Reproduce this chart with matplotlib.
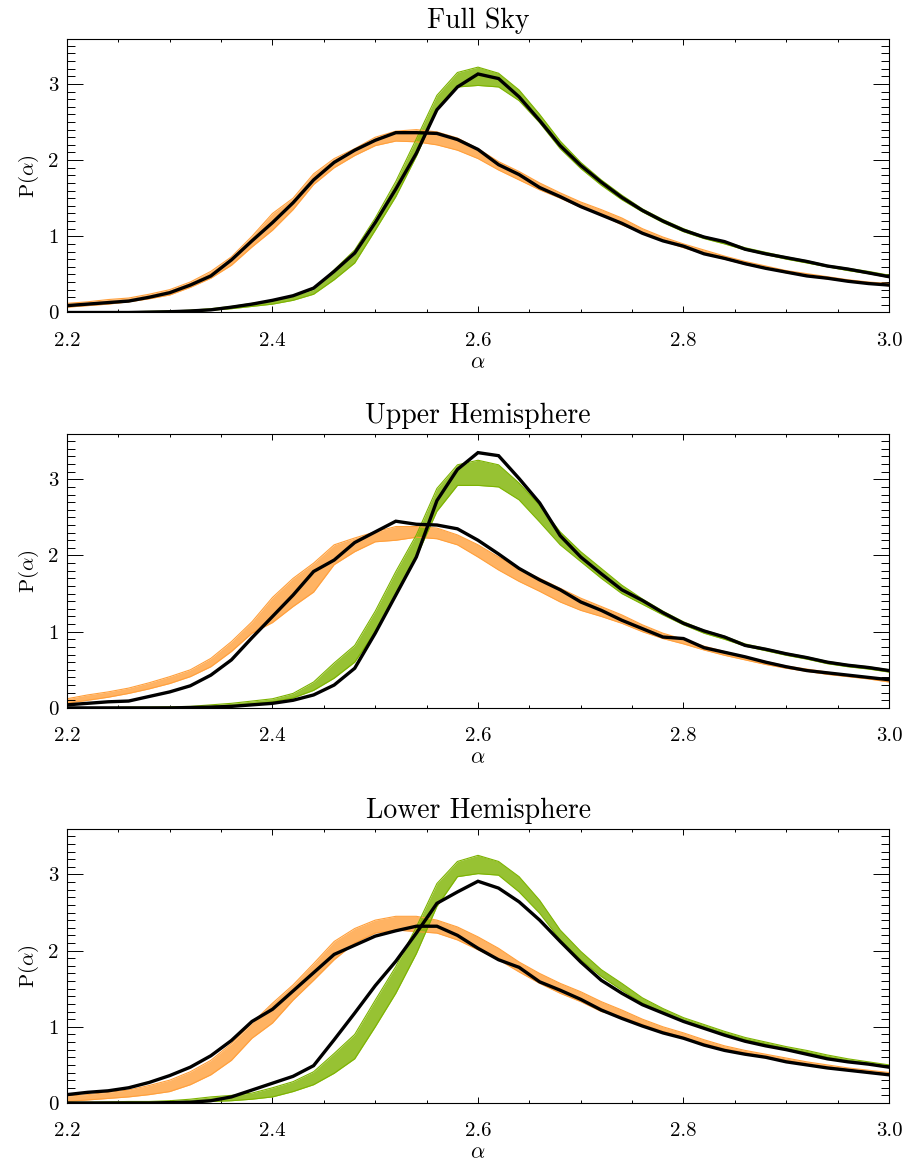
import matplotlib
matplotlib.use('Agg')
import matplotlib.pyplot as plt
from matplotlib.ticker import MultipleLocator, FormatStrFormatter

plt.rcParams['font.family'] = ['cmr10', 'DejaVu Serif']
plt.rcParams['mathtext.fontset'] = 'cm'
plt.rcParams['axes.unicode_minus'] = False
plt.rcParams['axes.formatter.use_mathtext'] = True

# ---------------- data ----------------
alpha = [2.20, 2.22, 2.24, 2.26, 2.28, 2.30, 2.32, 2.34, 2.36, 2.38,
         2.40, 2.42, 2.44, 2.46, 2.48, 2.50, 2.52, 2.54, 2.56, 2.58,
         2.60, 2.62, 2.64, 2.66, 2.68, 2.70, 2.72, 2.74, 2.76, 2.78,
         2.80, 2.82, 2.84, 2.86, 2.88, 2.90, 2.92, 2.94, 2.96, 2.98, 3.00]

titles = ["Full Sky", "Upper Hemisphere", "Lower Hemisphere"]

# ---- Full Sky ----
full_data_wide = [0.09, 0.11, 0.13, 0.15, 0.20, 0.26, 0.36, 0.48, 0.69, 0.94,
                  1.18, 1.44, 1.74, 1.97, 2.13, 2.26, 2.36, 2.36, 2.35, 2.27,
                  2.14, 1.94, 1.81, 1.64, 1.52, 1.39, 1.28, 1.17, 1.04, 0.94,
                  0.87, 0.77, 0.71, 0.64, 0.58, 0.53, 0.48, 0.45, 0.41, 0.38, 0.36]
full_orange_lo = [0.07, 0.09, 0.11, 0.14, 0.18, 0.23, 0.33, 0.45, 0.62, 0.86,
                  1.08, 1.35, 1.68, 1.90, 2.06, 2.19, 2.25, 2.24, 2.20, 2.13,
                  2.02, 1.87, 1.74, 1.61, 1.50, 1.38, 1.28, 1.15, 1.04, 0.94,
                  0.85, 0.77, 0.70, 0.63, 0.58, 0.52, 0.48, 0.44, 0.41, 0.38, 0.35]
full_orange_hi = [0.12, 0.14, 0.17, 0.19, 0.24, 0.30, 0.40, 0.54, 0.73, 1.00,
                  1.30, 1.50, 1.82, 2.02, 2.15, 2.30, 2.38, 2.40, 2.37, 2.29,
                  2.15, 1.98, 1.85, 1.70, 1.57, 1.45, 1.35, 1.24, 1.10, 0.99,
                  0.90, 0.82, 0.74, 0.67, 0.61, 0.55, 0.51, 0.47, 0.43, 0.40, 0.38]
full_data_peak = [0.00, 0.00, 0.00, 0.00, 0.005, 0.01, 0.02, 0.035, 0.07, 0.11,
                  0.16, 0.22, 0.32, 0.54, 0.78, 1.18, 1.62, 2.09, 2.66, 2.96,
                  3.13, 3.07, 2.83, 2.52, 2.19, 1.93, 1.71, 1.51, 1.34, 1.20,
                  1.08, 0.99, 0.93, 0.83, 0.77, 0.72, 0.67, 0.61, 0.57, 0.52, 0.47]
full_green_lo = [0.00, 0.00, 0.00, 0.00, 0.00, 0.005, 0.01, 0.03, 0.05, 0.08,
                 0.11, 0.16, 0.24, 0.43, 0.65, 1.08, 1.52, 2.05, 2.66, 2.96,
                 2.98, 2.96, 2.78, 2.49, 2.15, 1.89, 1.67, 1.48, 1.32, 1.18,
                 1.06, 0.97, 0.90, 0.82, 0.76, 0.70, 0.65, 0.60, 0.55, 0.51, 0.46]
full_green_hi = [0.01, 0.01, 0.01, 0.01, 0.015, 0.02, 0.03, 0.05, 0.08, 0.12,
                 0.16, 0.22, 0.30, 0.56, 0.82, 1.24, 1.72, 2.28, 2.85, 3.15,
                 3.22, 3.14, 2.92, 2.60, 2.25, 1.97, 1.74, 1.54, 1.36, 1.22,
                 1.10, 1.00, 0.93, 0.85, 0.79, 0.73, 0.68, 0.62, 0.58, 0.54, 0.49]

# ---- Upper Hemisphere ----
upper_data_wide = [0.04, 0.06, 0.08, 0.09, 0.15, 0.21, 0.29, 0.43, 0.63, 0.92,
                   1.20, 1.48, 1.79, 1.94, 2.17, 2.31, 2.45, 2.41, 2.40, 2.35,
                   2.20, 2.02, 1.83, 1.68, 1.55, 1.39, 1.28, 1.15, 1.04, 0.93,
                   0.91, 0.79, 0.73, 0.67, 0.60, 0.54, 0.49, 0.46, 0.43, 0.40, 0.37]
upper_orange_lo = [0.06, 0.10, 0.14, 0.19, 0.25, 0.32, 0.41, 0.54, 0.74, 0.98,
                   1.12, 1.33, 1.52, 1.88, 2.05, 2.18, 2.20, 2.24, 2.22, 2.14,
                   1.98, 1.81, 1.66, 1.53, 1.39, 1.28, 1.20, 1.11, 1.00, 0.91,
                   0.84, 0.76, 0.69, 0.63, 0.57, 0.52, 0.48, 0.44, 0.41, 0.38, 0.34]
upper_orange_hi = [0.12, 0.17, 0.21, 0.26, 0.33, 0.41, 0.50, 0.65, 0.87, 1.13,
                   1.45, 1.70, 1.90, 2.14, 2.23, 2.31, 2.38, 2.38, 2.36, 2.27,
                   2.14, 1.98, 1.83, 1.70, 1.57, 1.44, 1.33, 1.22, 1.09, 0.98,
                   0.90, 0.81, 0.74, 0.67, 0.61, 0.55, 0.51, 0.47, 0.43, 0.40, 0.37]
upper_data_peak = [0.00, 0.00, 0.00, 0.00, 0.00, 0.00, 0.005, 0.01, 0.02, 0.04,
                   0.06, 0.10, 0.17, 0.30, 0.52, 0.98, 1.48, 1.98, 2.72, 3.13,
                   3.35, 3.31, 3.01, 2.69, 2.26, 1.98, 1.76, 1.55, 1.41, 1.25,
                   1.11, 1.01, 0.93, 0.82, 0.77, 0.71, 0.66, 0.60, 0.56, 0.53, 0.49]
upper_green_lo = [0.00, 0.00, 0.00, 0.00, 0.00, 0.005, 0.01, 0.02, 0.03, 0.05,
                  0.08, 0.13, 0.23, 0.39, 0.60, 1.00, 1.47, 1.98, 2.58, 2.92,
                  2.92, 2.90, 2.73, 2.44, 2.14, 1.92, 1.70, 1.50, 1.36, 1.22,
                  1.09, 0.98, 0.90, 0.81, 0.75, 0.69, 0.64, 0.58, 0.54, 0.51, 0.47]
upper_green_hi = [0.005, 0.005, 0.005, 0.01, 0.01, 0.015, 0.02, 0.04, 0.06, 0.09,
                  0.12, 0.19, 0.34, 0.59, 0.82, 1.27, 1.79, 2.27, 2.88, 3.19,
                  3.25, 3.19, 2.95, 2.66, 2.31, 2.05, 1.83, 1.61, 1.43, 1.27,
                  1.13, 1.02, 0.94, 0.84, 0.78, 0.72, 0.67, 0.61, 0.57, 0.54, 0.50]

# ---- Lower Hemisphere ----
lower_data_wide = [0.11, 0.14, 0.16, 0.20, 0.27, 0.36, 0.47, 0.62, 0.82, 1.07,
                   1.23, 1.47, 1.71, 1.95, 2.07, 2.19, 2.26, 2.32, 2.32, 2.20,
                   2.03, 1.88, 1.78, 1.59, 1.48, 1.36, 1.22, 1.11, 1.01, 0.92,
                   0.85, 0.76, 0.69, 0.64, 0.60, 0.54, 0.50, 0.46, 0.43, 0.40, 0.37]
lower_orange_lo = [0.02, 0.04, 0.06, 0.08, 0.11, 0.15, 0.24, 0.37, 0.56, 0.85,
                   1.05, 1.35, 1.61, 1.88, 2.10, 2.23, 2.27, 2.25, 2.23, 2.14,
                   2.01, 1.88, 1.72, 1.57, 1.44, 1.33, 1.20, 1.13, 1.03, 0.94,
                   0.86, 0.78, 0.71, 0.66, 0.61, 0.56, 0.51, 0.47, 0.44, 0.41, 0.38]
lower_orange_hi = [0.09, 0.11, 0.14, 0.17, 0.23, 0.30, 0.41, 0.56, 0.78, 1.05,
                   1.31, 1.55, 1.83, 2.12, 2.29, 2.40, 2.45, 2.45, 2.40, 2.31,
                   2.18, 2.03, 1.85, 1.70, 1.57, 1.46, 1.33, 1.22, 1.10, 1.00,
                   0.92, 0.83, 0.75, 0.69, 0.64, 0.59, 0.54, 0.50, 0.46, 0.43, 0.40]
lower_data_peak = [0.00, 0.00, 0.00, 0.00, 0.00, 0.005, 0.01, 0.03, 0.08, 0.17,
                   0.26, 0.35, 0.49, 0.83, 1.18, 1.54, 1.86, 2.23, 2.62, 2.77,
                   2.91, 2.82, 2.64, 2.40, 2.12, 1.85, 1.61, 1.44, 1.29, 1.18,
                   1.07, 0.98, 0.89, 0.81, 0.75, 0.70, 0.64, 0.58, 0.54, 0.51, 0.47]
lower_green_lo = [0.00, 0.00, 0.00, 0.005, 0.005, 0.01, 0.01, 0.02, 0.03, 0.05,
                  0.08, 0.15, 0.24, 0.39, 0.58, 1.00, 1.44, 1.96, 2.58, 2.97,
                  3.01, 2.99, 2.77, 2.49, 2.14, 1.88, 1.66, 1.48, 1.31, 1.19,
                  1.08, 0.99, 0.91, 0.83, 0.77, 0.71, 0.66, 0.60, 0.55, 0.51, 0.47]
lower_green_hi = [0.01, 0.01, 0.015, 0.02, 0.02, 0.03, 0.05, 0.08, 0.10, 0.13,
                  0.20, 0.28, 0.41, 0.65, 0.90, 1.35, 1.79, 2.31, 2.88, 3.17,
                  3.25, 3.17, 2.97, 2.66, 2.27, 1.99, 1.75, 1.57, 1.38, 1.24,
                  1.12, 1.03, 0.94, 0.86, 0.80, 0.74, 0.69, 0.63, 0.58, 0.54, 0.50]

panels = [
    (full_orange_lo, full_orange_hi, full_green_lo, full_green_hi, full_data_wide, full_data_peak),
    (upper_orange_lo, upper_orange_hi, upper_green_lo, upper_green_hi, upper_data_wide, upper_data_peak),
    (lower_orange_lo, lower_orange_hi, lower_green_lo, lower_green_hi, lower_data_wide, lower_data_peak),
]

ORANGE = '#ffa03c'
GREEN = '#7db300'

W, H = 908, 1164
fig = plt.figure(figsize=(W / 100, H / 100), dpi=100)

# axes placement in pixels: (left, top, right, bottom)
boxes = [(67, 39, 889, 312.5), (67, 433.7, 889, 707.9), (67, 829.3, 889, 1103.0)]

for (l, t, r, b), title, (olo, ohi, glo, ghi, dwide, dpeak) in zip(boxes, titles, panels):
    ax = fig.add_axes([l / W, 1 - b / H, (r - l) / W, (b - t) / H])
    ax.fill_between(alpha, olo, ohi, color=ORANGE, alpha=0.8, lw=0)
    ax.plot(alpha, olo, color=ORANGE, lw=0.8)
    ax.plot(alpha, ohi, color=ORANGE, lw=0.8)
    ax.fill_between(alpha, glo, ghi, color=GREEN, alpha=0.8, lw=0)
    ax.plot(alpha, glo, color=GREEN, lw=0.8)
    ax.plot(alpha, ghi, color=GREEN, lw=0.8)
    ax.plot(alpha, dwide, color='black', lw=2.4, solid_joinstyle='miter')
    ax.plot(alpha, dpeak, color='black', lw=2.4, solid_joinstyle='miter')

    ax.set_xlim(2.2, 3.0)
    ax.set_ylim(0, (b - t) / 76.2)
    ax.xaxis.set_major_locator(MultipleLocator(0.2))
    ax.xaxis.set_minor_locator(MultipleLocator(0.05))
    ax.yaxis.set_major_locator(MultipleLocator(1))
    ax.yaxis.set_minor_locator(MultipleLocator(0.1))
    ax.xaxis.set_major_formatter(FormatStrFormatter('%.1f'))
    ax.yaxis.set_major_formatter(FormatStrFormatter('%d'))
    ax.tick_params(axis='x', which='major', direction='in', length=4, width=0.7,
                   top=True, bottom=True, pad=14, labelsize=15)
    ax.tick_params(axis='x', which='minor', direction='in', length=2, width=0.7,
                   top=True, bottom=True)
    ax.tick_params(axis='y', which='major', direction='in', length=11.5, width=0.7,
                   left=True, right=True, pad=6, labelsize=15)
    ax.tick_params(axis='y', which='minor', direction='in', length=5.8, width=0.7,
                   left=True, right=True)
    for sp in ax.spines.values():
        sp.set_linewidth(0.8)
    ax.set_title(title, fontsize=20, pad=8)
    ax.set_xlabel(r'$\alpha$', fontsize=16, labelpad=2)
    ax.set_ylabel(r'P($\alpha$)', fontsize=15, labelpad=5)

fig.savefig('out.png', dpi=100)
